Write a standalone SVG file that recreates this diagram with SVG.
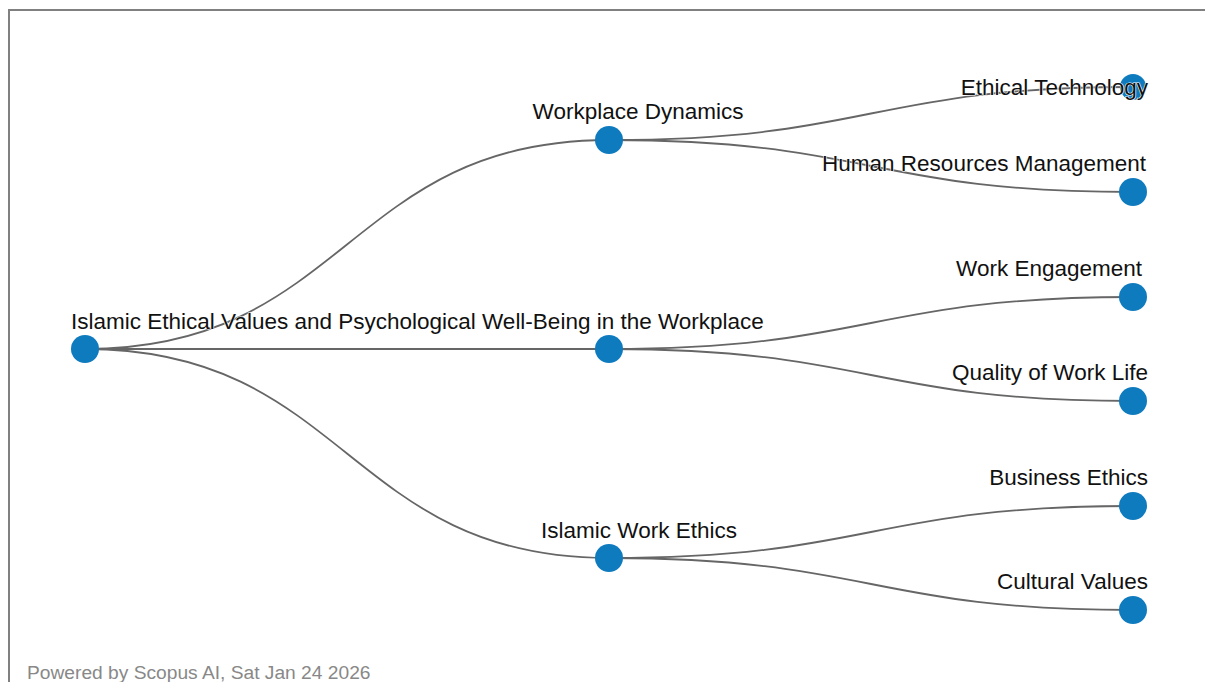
<svg xmlns="http://www.w3.org/2000/svg" width="1205" height="682" viewBox="0 0 1205 682">
<style>
.link{fill:none;stroke:#666;stroke-width:1.8}
.node circle{fill:#0f7bbf}
.lbl{font-family:"Liberation Sans",Arial,sans-serif;font-size:22.5px;fill:#111;stroke:#fff;stroke-width:1.2;paint-order:stroke}
.foot{font-family:"Liberation Sans",Arial,sans-serif;font-size:19.2px;fill:#888}
</style>
<rect x="0" y="0" width="1205" height="682" fill="#fff"/>
<path d="M9,682 V10 H1205" fill="none" stroke="#808080" stroke-width="2"/>
<g id="links">
<path class="link" d="M85,349 C347,349 347,140 609,140"/>
<path class="link" d="M85,349 C347,349 347,349 609,349"/>
<path class="link" d="M85,349 C347,349 347,558 609,558"/>
<path class="link" d="M609,140 C871,140 871,87 1133,87"/>
<path class="link" d="M609,140 C871,140 871,192 1133,192"/>
<path class="link" d="M609,349 C871,349 871,297 1133,297"/>
<path class="link" d="M609,349 C871,349 871,401 1133,401"/>
<path class="link" d="M609,558 C871,558 871,506 1133,506"/>
<path class="link" d="M609,558 C871,558 871,610 1133,610"/>
</g>
<g id="n-root" class="node"><circle cx="85" cy="349" r="14"/><text class="lbl" x="71" y="329">Islamic Ethical Values and Psychological Well-Being in the Workplace</text></g>
<g id="n-workplace" class="node"><circle cx="609" cy="140" r="14"/><text class="lbl" x="638" y="119" text-anchor="middle">Workplace Dynamics</text></g>
<g id="n-quality-mid" class="node"><circle cx="609" cy="349" r="14"/></g>
<g id="n-iwe" class="node"><circle cx="609" cy="558" r="14"/><text class="lbl" x="639" y="538" text-anchor="middle">Islamic Work Ethics</text></g>
<g id="n-ethtech" class="node"><circle cx="1133" cy="87" r="13"/><text class="lbl" x="1148" y="95" text-anchor="end">Ethical Technology</text></g>
<g id="n-hrm" class="node"><circle cx="1133" cy="192" r="14"/><text class="lbl" x="1146" y="171" text-anchor="end">Human Resources Management</text></g>
<g id="n-we" class="node"><circle cx="1133" cy="297" r="14"/><text class="lbl" x="1142" y="276" text-anchor="end">Work Engagement</text></g>
<g id="n-qwl" class="node"><circle cx="1133" cy="401" r="14"/><text class="lbl" x="1148" y="380" text-anchor="end">Quality of Work Life</text></g>
<g id="n-be" class="node"><circle cx="1133" cy="506" r="14"/><text class="lbl" x="1148" y="485" text-anchor="end">Business Ethics</text></g>
<g id="n-cv" class="node"><circle cx="1133" cy="610" r="14"/><text class="lbl" x="1148" y="589" text-anchor="end">Cultural Values</text></g>
<text class="foot" x="27" y="679">Powered by Scopus AI, Sat Jan 24 2026</text>
</svg>
